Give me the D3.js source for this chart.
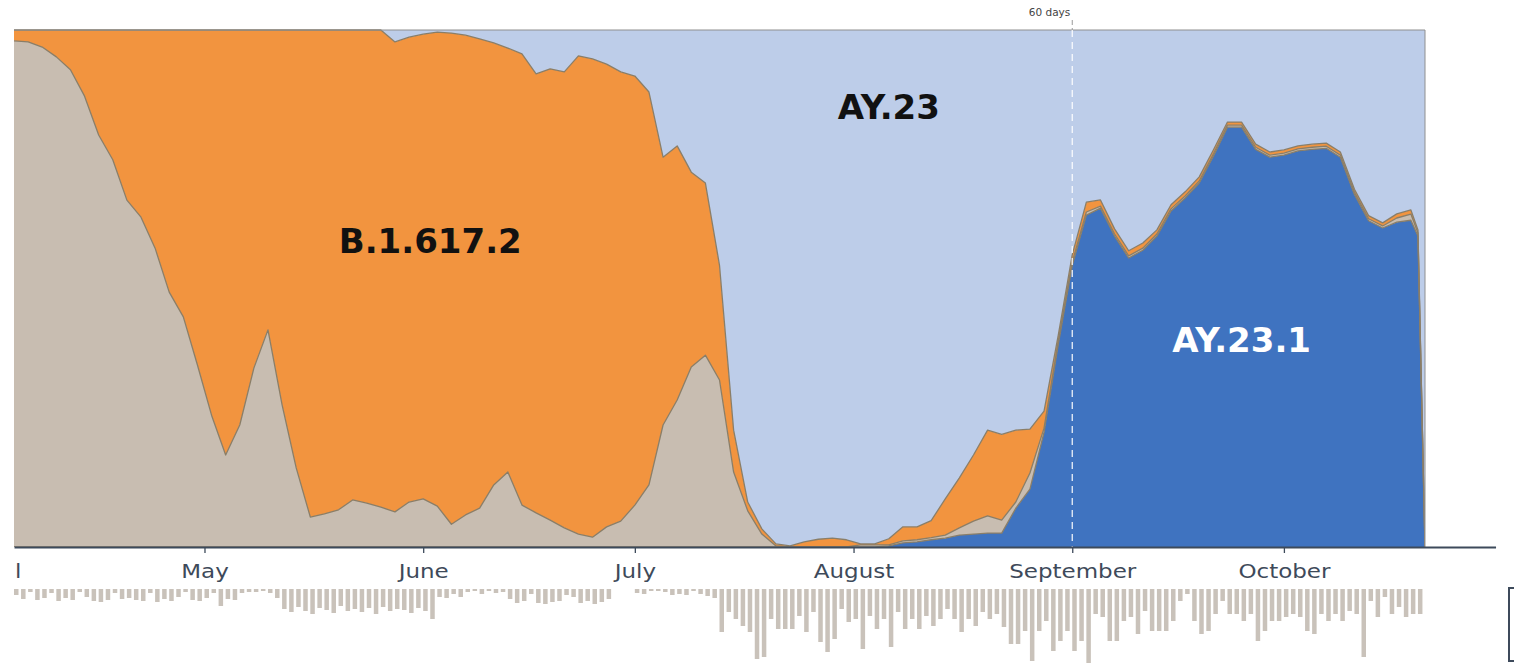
<!DOCTYPE html>
<html><head><meta charset="utf-8">
<script src="https://cdn.jsdelivr.net/npm/d3@7"></script>
<style>body{margin:0;background:#fff}svg{display:block}</style>
</head><body>
<svg id="c" width="1514" height="663"></svg>
<script>
// ---------- data ----------
const startDate = "2021-04-04";
// day offsets of the sampled points (every 2 days, then the last two days)
const dayOffsets = d3.range(0, 199, 2).concat([199, 200]);
const seriesKeys = ["AY.23.1", "Other", "B.1.617.2", "AY.23"];

const ay231 = [0,0,0,0,0,0,0,0,0,0, 0,0,0,0,0,0,0,0,0,0, 0,0,0,0,0,0,0,0,0,0,
  0,0,0,0,0,0,0,0,0,0, 0,0,0,0,0,0,0,0,0,0, 0,0,0,0,0,0,0,0,0,0, 0,0,
  0.2,0.8,1.0,1.4,1.7,2.3,2.5,2.7,2.7,7.5,11.2,22.2,39.1,54.5,64.2,65.6,60.2,55.9,57.4,60.2,
  65.0,67.5,70.4,75.6,81.2,81.2,77.0,75.4,75.8,76.6,77.0,77.2,75.4,68.2,63.1,61.7,62.9,63.2,
  60.2,0];
const other = [97.9,97.7,96.7,94.8,92.3,87.2,79.7,74.9,67.1,63.8,57.8,49.3,44.5,35.2,25.5,17.8,23.6,34.6,42.0,27.5,
  15.3,5.8,6.4,7.2,9.1,8.5,7.7,6.8,8.7,9.3,7.9,4.4,6.2,7.5,12.0,14.5,8.1,6.6,5.2,3.7,
  2.5,1.9,3.9,5.0,8.1,12.0,23.6,28.4,34.8,37.1,32.3,14.5,7.0,2.5,0.2,0,0,0,0,0,
  0.4,0.4,0.2,0.4,0.4,0.4,0.6,1.4,2.5,3.3,2.5,1.2,3.1,0.8,0.6,0.6,0.6,0.4,
  0.4,0.4,0.4,0.4,0.4,0.4,0.4,0.4,0.4,0.4,0.4,0.4,0.4,0.4,0.4,0.4,0.4,0.4,0.4,0.4,
  0.8,1.2,0.6,0];
const b16172 = [2.1,2.3,3.3,5.2,7.7,12.8,20.3,25.1,32.9,36.2,42.2,50.7,55.5,64.8,74.5,82.2,76.4,65.4,58.0,72.5,
  84.7,94.2,93.6,92.8,90.9,91.5,92.3,90.9,89.9,89.9,91.7,95.0,92.8,90.7,85.5,82.0,87.2,84.9,87.2,88.2,
  92.5,92.5,89.6,86.8,83.0,76.0,51.8,49.1,37.7,33.3,22.2,8.1,1.7,1.0,0.4,0.2,1.0,1.5,1.7,1.4,
  0.2,0.2,1.2,2.7,2.5,3.3,7.0,9.7,12.8,16.6,16.6,13.9,8.5,3.3,1.2,1.4,1.9,1.2,1.0,1.0,
  1.0,0.8,0.8,0.8,0.8,0.8,0.6,0.6,0.6,0.6,0.6,0.6,0.6,0.6,0.6,0.6,0.6,0.6,0.8,0.8,
  0.6,0];
const ay23 = [0,0,0,0,0,0,0,0,0,0, 0,0,0,0,0,0,0,0,0,0, 0,0,0,0,0,0,0,
  2.3,1.4,0.8,0.4,0.6,1.0,1.7,2.5,3.5,4.6,8.5,7.5,8.1,5.0,5.6,6.6,8.1,8.9,12.0,24.6,22.4,27.5,29.6,
  45.5,77.4,91.3,96.5,99.4,99.8,99.0,98.5,98.3,98.6,99.4,99.4,98.5,96.1,96.1,94.9,90.7,86.7,82.2,77.4,
  78.3,77.4,77.2,73.7,59.2,43.5,33.3,32.9,38.5,42.7,41.2,38.7,33.8,31.3,28.4,23.2,17.8,17.8,22.1,23.6,
  23.2,22.4,22.1,21.9,23.6,30.8,35.9,37.3,35.6,34.8,38.7,100];

// daily sequence counts (bars under the axis), Apr 4 .. Oct 20
const dailyCounts = [6,10,3,11,9,4,12,9,11,3, 8,12,13,11,4,10,9,11,12,4, 13,10,12,8,3,11,12,9,4,17,
  10,11,4,3,3,2,4,9, 20,23,18,22,25,19,21,24,17,22, 20,23,19,25,18,22,20,21,24,19,
  22,30,8,9, 5,8,3,2,5,2,4,3, 10,14,12,5,14,15,13,12,6,8,14,12,15,13,10, 0,0,0,
  4,5,2,2,3,6,5,6,2,5,7,9, 43,23,30,37,43,70,68,30,40,40, 40,27,43,23,53,63,50,20,33,30,
  60,27,40,30,58,23,40,30,40,27, 37,30,20,30,43,30,37,23,30, 25,38,55,55,
  42,72,42,32,62,52,42,62,52,75, 25,28,52,52,32,28,45,22,42,42, 42,32,12,5,32,45,42,25,12,25,
  25,32,25,52,42,32,32,28,25,28, 42,45,25,32,25,32,22,25,68,12, 28,8,25,18,28,25,25];

const monthTicks = ["2021-04-01","2021-05-01","2021-06-01","2021-07-01","2021-08-01","2021-09-01","2021-10-01"];
const monthLabels = ["April","May","June","July","August","September","October"];
const markerDate = "2021-09-01";
const markerLabel = "60 days";
const seriesLabels = [
  {key:"AY.23", date:"2021-08-06", value:0.828, color:"#111"},
  {key:"B.1.617.2", date:"2021-06-02", value:0.569, color:"#111"},
  {key:"AY.23.1", date:"2021-09-25", value:0.377, color:"#fff"}
];

// ---------- chart ----------
const parse = d3.timeParse("%Y-%m-%d");
const t0 = parse(startDate);
const rows = dayOffsets.map((o, i) => ({
  date: d3.timeDay.offset(t0, o),
  "AY.23.1": ay231[i], "Other": other[i], "B.1.617.2": b16172[i], "AY.23": ay23[i]
}));

const svg = d3.select("#c");
const pLeft = 14, pTop = 30, pBottom = 547;
const x = d3.scaleTime()
  .domain([t0, parse("2021-10-31")])
  .range([pLeft, pLeft + 210 * 7.055]);
const y = d3.scaleLinear().domain([0, 1]).range([pBottom, pTop]);

const colors = {"AY.23.1":"#3f73c0","Other":"#c8bdb1","B.1.617.2":"#f2943f","AY.23":"#bdcde9"};

const stack = d3.stack().keys(seriesKeys).offset(d3.stackOffsetExpand);
const layers = stack(rows);

const plotRight = x(d3.timeDay.offset(t0, 200));
const defs = svg.append("defs");
defs.append("clipPath").attr("id","pc").append("rect")
  .attr("x", pLeft).attr("y", pTop - 1).attr("width", plotRight - pLeft).attr("height", pBottom - pTop + 1);
// the original picture is cropped at its left edge
defs.append("clipPath").attr("id","axclip").append("rect")
  .attr("x", pLeft).attr("y", -20).attr("width", 1600).attr("height", 80);

const g = svg.append("g").attr("clip-path","url(#pc)");
const area = d3.area().x(d => x(d.data.date)).y0(d => y(d[0])).y1(d => y(d[1]));
const line = d3.line().x(d => x(d.data.date)).y(d => y(d[1]));

g.selectAll("path.layer").data(layers).join("path")
  .attr("class","layer")
  .attr("d", area)
  .attr("fill", d => colors[d.key]);
g.selectAll("path.edge").data(layers.slice(0, 3)).join("path")
  .attr("class","edge")
  .attr("d", line)
  .attr("fill","none")
  .attr("stroke","#8a7e68")
  .attr("stroke-width",1.3)
  .attr("stroke-linejoin","round");

// frame (top and right)
svg.append("path")
  .attr("d", `M${pLeft},${pTop}H${plotRight}V${pBottom}`)
  .attr("fill","none").attr("stroke","#8f8f8f").attr("stroke-width",1);

// 60-day marker
const mx = x(parse(markerDate));
svg.append("line").attr("x1",mx).attr("x2",mx).attr("y1",pTop).attr("y2",pBottom)
  .attr("stroke","#ffffff").attr("stroke-width",1.3).attr("stroke-dasharray","7,5").attr("opacity",0.9);
svg.append("line").attr("x1",mx).attr("x2",mx).attr("y1",20).attr("y2",pTop)
  .attr("stroke","#9a9a9a").attr("stroke-width",1).attr("stroke-dasharray","5,3");
svg.append("text").attr("x", mx - 2).attr("y", 16)
  .attr("text-anchor","end").attr("font-family","DejaVu Sans, sans-serif")
  .attr("font-size",10.5).attr("fill","#444").text(markerLabel);

// axis
const axis = d3.axisBottom(x)
  .tickValues(monthTicks.map(parse))
  .tickFormat((d, i) => monthLabels[i])
  .tickSize(6).tickSizeOuter(0);
const ax = svg.append("g").attr("transform",`translate(0,${pBottom})`)
  .attr("clip-path","url(#axclip)")
  .call(axis);
ax.select(".domain").attr("stroke","#3d4a5b").attr("stroke-width",2);
ax.selectAll(".tick line").attr("stroke","#3d4a5b").attr("stroke-width",1.3);
ax.selectAll(".tick text")
  .attr("y", 31).attr("dy", 0)
  .attr("font-family","DejaVu Sans, sans-serif")
  .attr("font-size", 20).attr("fill","#3e4a5a")
  .attr("transform","scale(1.15,1)");
// the April label sits off the left edge, as in the original (only its tail shows)
const aprX = x(parse(monthTicks[0]));
ax.selectAll(".tick text").filter((d, i) => i === 0)
  .attr("text-anchor","end")
  .attr("x", (21 - aprX) / 1.15);

// daily bars under the axis
const barTop = 589;
const hb = d3.scaleLinear().domain([0, 75]).range([0, 75]);
svg.append("g").selectAll("rect").data(dailyCounts).join("rect")
  .attr("x", (d, i) => x(d3.timeDay.offset(t0, i)))
  .attr("y", barTop)
  .attr("width", 4.5)
  .attr("height", d => hb(d))
  .attr("fill","#c9c2ba");

// bracket at right edge
svg.append("path").attr("d","M1515,588H1509V661H1515")
  .attr("fill","none").attr("stroke","#3d4a5b").attr("stroke-width",2);

// series labels
svg.append("g").selectAll("text").data(seriesLabels).join("text")
  .attr("x", d => x(parse(d.date)))
  .attr("y", d => y(d.value))
  .attr("text-anchor","middle")
  .attr("font-family","DejaVu Sans, Verdana, sans-serif")
  .attr("font-weight","bold")
  .attr("font-size",34)
  .attr("fill", d => d.color)
  .text(d => d.key);
</script>
</body></html>
